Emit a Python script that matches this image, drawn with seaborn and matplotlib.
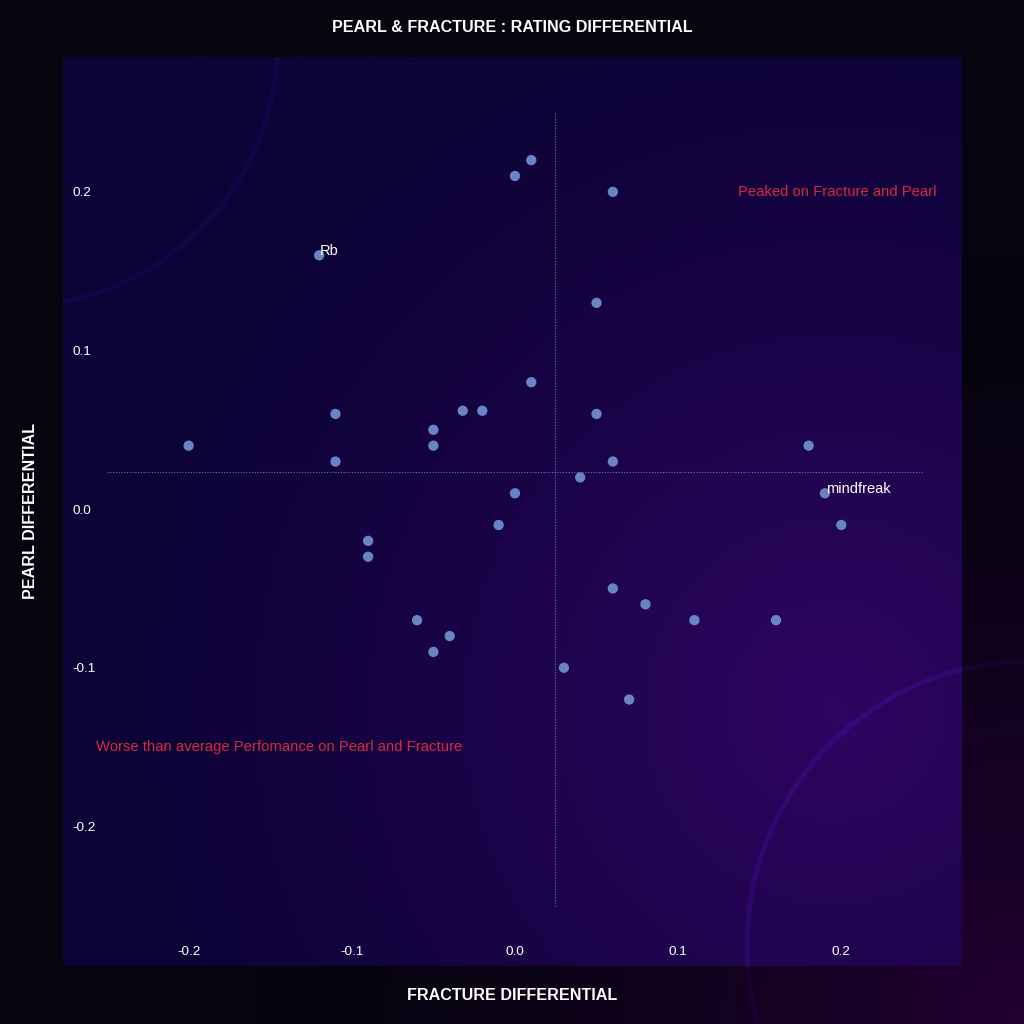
import numpy as np
import pandas as pd
import matplotlib
matplotlib.use("Agg")
import matplotlib.pyplot as plt
import matplotlib.patches as mpatches
from matplotlib.colors import to_rgb
import seaborn as sns

# data
fracture_diff = [-0.20, -0.12, -0.11, -0.11, -0.09, -0.09, -0.06, -0.05, -0.05, -0.05,
                 -0.04, -0.032, -0.02, -0.01, 0.00, 0.00, 0.01, 0.01, 0.03, 0.04,
                 0.05, 0.05, 0.06, 0.06, 0.06, 0.07, 0.08, 0.11, 0.16, 0.18, 0.19, 0.20]
pearl_diff = [0.04, 0.16, 0.06, 0.03, -0.02, -0.03, -0.07, 0.05, 0.04, -0.09,
              -0.08, 0.062, 0.062, -0.01, 0.01, 0.21, 0.22, 0.08, -0.10, 0.02,
              0.13, 0.06, -0.05, 0.20, 0.03, -0.12, -0.06, -0.07, -0.07, 0.04, 0.01, -0.01]
players = [""] * 32
players[1] = "Rb"
players[30] = "mindfreak"

ticks = [-0.2, -0.1, 0.0, 0.1, 0.2]
ref_x = 0.0245   # vertical reference line
ref_y = 0.0233   # horizontal reference line
ref_extent = 0.25

df = pd.DataFrame({"fracture": fracture_diff, "pearl": pearl_diff, "player": players})

sns.set_style("dark")
plt.rcParams["font.family"] = ["Liberation Sans", "DejaVu Sans"]

fig = plt.figure(figsize=(10.24, 10.24), dpi=100)
fig.patch.set_facecolor("#05040f")

# figure background with a faint glow bottom-right
bg = fig.add_axes([0, 0, 1, 1], zorder=-10)
bg.axis("off")
yy, xx = np.mgrid[0:1:300j, 0:1:300j]
d = np.sqrt((xx - 1.0) ** 2 + (yy - 0.0) ** 2)
w = np.clip(1 - d / 0.75, 0, 1) ** 1.5
c0, c1 = np.array(to_rgb("#05040f")), np.array(to_rgb("#230033"))
img = c0 * (1 - w[..., None]) + c1 * w[..., None]
bg.imshow(img, extent=[0, 1, 0, 1], origin="lower", aspect="auto")
bg.set_xlim(0, 1)
bg.set_ylim(0, 1)

ax = fig.add_axes([63 / 1024, 1 - 966 / 1024, 899 / 1024, 909 / 1024])
xlim = (-0.277, 0.274)
ylim = (-0.288, 0.285)

# axes background gradient
d = np.sqrt((xx - 0.86) ** 2 + (yy - 0.28) ** 2)
w = np.clip(1 - d / 0.85, 0, 1) ** 1.4
c0, c1 = np.array(to_rgb("#0c0336")), np.array(to_rgb("#300563"))
img = c0 * (1 - w[..., None]) + c1 * w[..., None]
ax.imshow(img, extent=[xlim[0], xlim[1], ylim[0], ylim[1]], origin="lower",
          aspect="auto", zorder=0)

# decorative rings
ring1 = mpatches.Circle((12, 1024 - 41), 266, transform=None, fill=False,
                        edgecolor="#2a0c8a", alpha=0.22, lw=3.5, zorder=1)
ring1.set_clip_path(ax.patch)
ax.add_artist(ring1)
ring2 = mpatches.Circle((1031, 1024 - 945), 284, transform=None, fill=False,
                        edgecolor="#4a14b0", alpha=0.22, lw=3.5, zorder=1)
ring2.set_clip_path(ax.patch)
ax.add_artist(ring2)
ring2b = mpatches.Circle((1031, 1024 - 945), 284, transform=None, fill=False,
                         edgecolor="#4a14b0", alpha=0.1, lw=3.5)
fig.add_artist(ring2b)

# reference lines
ax.vlines(ref_x, -ref_extent, ref_extent, colors="#6f6fb0", linestyles=(0, (1, 1.5)),
          lw=0.8, zorder=2)
ax.hlines(ref_y, -ref_extent, ref_extent, colors="#6f6fb0", linestyles=(0, (1, 1.5)),
          lw=0.8, zorder=2)

sns.scatterplot(data=df, x="fracture", y="pearl", ax=ax, s=55, color="#6d8ccc",
                edgecolor="none", alpha=0.95, zorder=3)

for _, r in df[df["player"] != ""].iterrows():
    ax.annotate(r["player"], (r["fracture"], r["pearl"]), xytext=(0.5, 3),
                textcoords="offset points", ha="left", va="center",
                color="white", fontsize=10.5, zorder=4)

ax.text(0.137, 0.2, "Peaked on Fracture and Pearl", color="#d42a3e",
        fontsize=10.7, ha="left", va="center", zorder=4)
ax.text(-0.257, -0.15, "Worse than average Perfomance on Pearl and Fracture",
        color="#d42a3e", fontsize=10.7, ha="left", va="center", zorder=4)

ax.set_xlim(*xlim)
ax.set_ylim(*ylim)
ax.set_xticks(ticks)
ax.set_yticks(ticks)
ax.set_xticklabels([f"{t:.1f}" for t in ticks])
ax.set_yticklabels([f"{t:.1f}" for t in ticks])
ax.tick_params(axis="both", length=0, colors="white", labelsize=9.7)
ax.tick_params(axis="x", pad=-14.5)
ax.tick_params(axis="y", pad=-6.5)
for lab in ax.get_yticklabels():
    lab.set_horizontalalignment("left")
ax.grid(False)
for s in ax.spines.values():
    s.set_visible(False)
ax.set_xlabel("")
ax.set_ylabel("")

fig.text(512 / 1024, 1 - 27 / 1024, "PEARL & FRACTURE : RATING DIFFERENTIAL",
         color="white", fontsize=11.6, fontweight="bold", ha="center", va="center")
fig.text(512 / 1024, 1 - 995 / 1024, "FRACTURE DIFFERENTIAL",
         color="white", fontsize=11.6, fontweight="bold", ha="center", va="center")
fig.text(31 / 1024, 1 - 511 / 1024, "PEARL DIFFERENTIAL", rotation=90,
         color="white", fontsize=11.6, fontweight="bold", ha="center", va="center")

fig.savefig("out.png", dpi=100, facecolor=fig.get_facecolor())
